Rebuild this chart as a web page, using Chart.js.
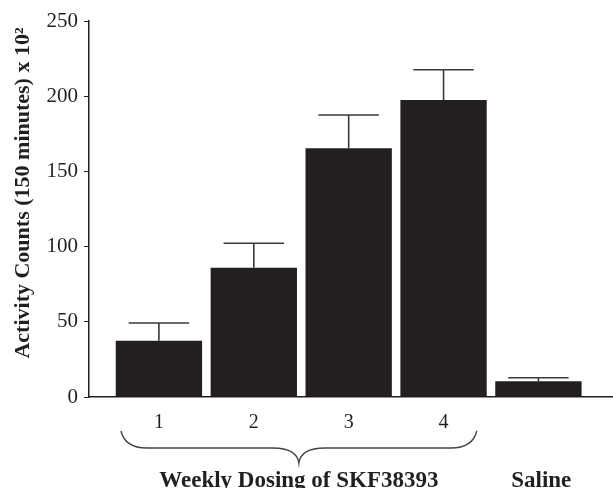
<!DOCTYPE html>
<html>
<head>
<meta charset="utf-8">
<script src="https://cdn.jsdelivr.net/npm/chart.js@4/dist/chart.umd.min.js"></script>
<style>
  html, body { margin: 0; padding: 0; background: #fff; }
  #wrap { width: 613px; height: 488px; }
</style>
</head>
<body>
<div id="wrap"><canvas id="activityChart"></canvas></div>
<script>
// data (activity counts x 10^2)
const weeks = [1, 2, 3, 4, 5];
const weekLabels = ["1", "2", "3", "4", ""];
const activityMeans = [37.4, 86.0, 165.4, 197.5, 10.4];
const activityErrTops = [49.2, 102.2, 187.5, 217.6, 12.8];
const yTicks = [0, 50, 100, 150, 200, 250];
const yTitle = "Activity Counts (150 minutes) x 10\u00b2";
const groupLabels = ["Weekly Dosing of SKF38393", "Saline"];
const groupCenters = [2.475, 5.03];
const braceSpan = [0.6, 4.35];

const ink = "#231f20";
const serif = "'Liberation Serif', 'Times New Roman', serif";

// error bars, the curly brace, group names and the y title
const extrasPlugin = {
  id: "extras",
  afterDatasetsDraw(chart) {
    const ctx = chart.ctx;
    const xs = chart.scales.x;
    const ys = chart.scales.y;
    const bars = chart.getDatasetMeta(0).data;

    ctx.save();
    ctx.strokeStyle = "#3a3a3a";
    ctx.lineWidth = 1.6;
    bars.forEach((bar, i) => {
      const yTop = ys.getPixelForValue(activityErrTops[i]);
      const half = bar.width * 0.35;
      ctx.beginPath();
      ctx.moveTo(bar.x, bar.y);
      ctx.lineTo(bar.x, yTop);
      ctx.moveTo(bar.x - half, yTop);
      ctx.lineTo(bar.x + half, yTop);
      ctx.stroke();
    });

    // brace
    const base = ys.bottom;
    const xl = xs.getPixelForValue(braceSpan[0]);
    const xr = xs.getPixelForValue(braceSpan[1]);
    const xm = (xl + xr) / 2;
    const yTop = base + 34, yMid = base + 51, yTip = base + 66;
    const r = 26;
    ctx.strokeStyle = "#444";
    ctx.lineWidth = 1.4;
    ctx.beginPath();
    ctx.moveTo(xl, yTop);
    ctx.quadraticCurveTo(xl + 4, yMid, xl + r, yMid);
    ctx.lineTo(xm - r, yMid);
    ctx.quadraticCurveTo(xm - 2, yMid, xm, yTip);
    ctx.quadraticCurveTo(xm + 2, yMid, xm + r, yMid);
    ctx.lineTo(xr - r, yMid);
    ctx.quadraticCurveTo(xr - 4, yMid, xr, yTop);
    ctx.stroke();

    ctx.fillStyle = ink;
    ctx.font = "bold 23px " + serif;
    ctx.textAlign = "center";
    ctx.textBaseline = "alphabetic";
    groupLabels.forEach((t, i) => {
      ctx.fillText(t, xs.getPixelForValue(groupCenters[i]), base + 90);
    });

    // y axis title, sits a bit above the middle of the axis like the original
    ctx.font = "bold 22px " + serif;
    ctx.textBaseline = "middle";
    ctx.translate(23, (ys.top + ys.bottom) / 2 - 16);
    ctx.rotate(-Math.PI / 2);
    ctx.fillText(yTitle, 0, 0);
    ctx.restore();
  }
};

new Chart(document.getElementById("activityChart").getContext("2d"), {
  type: "bar",
  data: {
    datasets: [{
      data: weeks.map((w, i) => ({ x: w, y: activityMeans[i] })),
      backgroundColor: ink,
      barPercentage: 0.91,
      categoryPercentage: 1
    }]
  },
  options: {
    responsive: true,
    maintainAspectRatio: false,
    animation: false,
    layout: { padding: { top: 21, left: 0, right: 0, bottom: 0 } },
    plugins: {
      legend: { display: false },
      tooltip: { enabled: false }
    },
    scales: {
      x: {
        type: "linear",
        offset: false,
        min: 0.263,
        max: 5.786,
        afterBuildTicks: s => { s.ticks = weeks.slice(0, 4).map(v => ({ value: v })); },
        grid: { offset: false, drawOnChartArea: false, drawTicks: false },
        border: { color: ink, width: 1.5 },
        ticks: {
          padding: 14,
          color: ink,
          font: { family: serif, size: 20 },
          callback: v => weekLabels[weeks.indexOf(v)]
        },
        afterFit: s => { s.height = 91; }
      },
      y: {
        min: 0,
        max: 250,
        afterBuildTicks: s => { s.ticks = yTicks.map(v => ({ value: v })); },
        grid: { drawOnChartArea: false, drawTicks: true, tickLength: 5, color: ink },
        border: { color: ink, width: 1.5 },
        ticks: { padding: 6, color: ink, font: { family: serif, size: 21 } },
        afterFit: s => { s.width = 89; }
      }
    }
  },
  plugins: [extrasPlugin]
});
</script>
</body>
</html>
